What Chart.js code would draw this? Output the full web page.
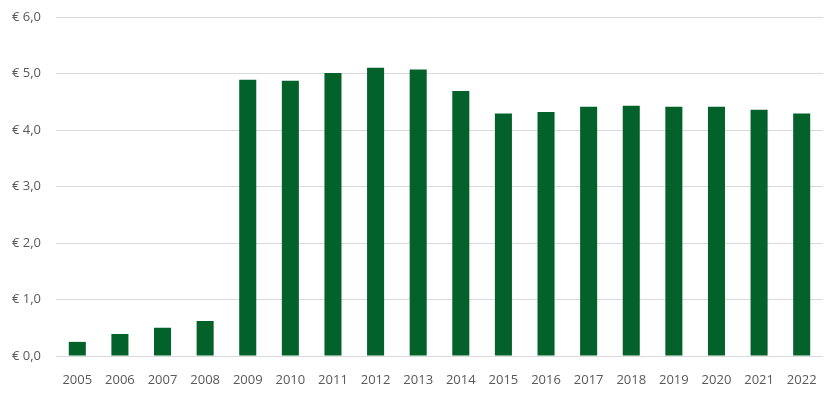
<!DOCTYPE html>
<html>
<head>
<meta charset="utf-8">
<script src="https://cdn.jsdelivr.net/npm/chart.js@4.4.0/dist/chart.umd.min.js"></script>
<style>
    html, body { margin: 0; padding: 0; background: #ffffff; }
    #wrap { width: 838px; height: 395px; position: relative; }
</style>
</head>
<body>
<div id="wrap"><canvas id="priceChart"></canvas></div>
<script>
// Chart data
const years = ['2005', '2006', '2007', '2008', '2009', '2010', '2011', '2012', '2013',
    '2014', '2015', '2016', '2017', '2018', '2019', '2020', '2021', '2022'];
const prices = [0.25, 0.39, 0.50, 0.62, 4.89, 4.87, 5.01, 5.10, 5.07,
    4.69, 4.29, 4.32, 4.41, 4.43, 4.41, 4.41, 4.36, 4.29];
const yTicks = [0, 1, 2, 3, 4, 5, 6];

const barColor = '#03622a';
const gridColor = '#d9d9d9';
const textColor = '#595959';

// Format value as euro label
function formatEuro(value) {
    return '€ ' + value.toFixed(1).replace('.', ',');
}

const ctx = document.getElementById('priceChart').getContext('2d');

new Chart(ctx, {
    type: 'bar',
    data: {
        labels: years,
        datasets: [{
            data: prices,
            backgroundColor: barColor,
            borderWidth: 0,
            barPercentage: 0.4,
            categoryPercentage: 1
        }]
    },
    options: {
        responsive: true,
        maintainAspectRatio: false,
        animation: false,
        layout: {
            padding: { left: 0, right: 15, top: 17, bottom: 0 }
        },
        plugins: {
            legend: { display: false },
            tooltip: { enabled: false }
        },
        scales: {
            x: {
                grid: { display: false },
                border: { display: false },
                ticks: {
                    color: textColor,
                    font: { family: 'Open Sans', size: 13 },
                    padding: 8,
                    maxRotation: 0
                },
                afterFit: function(scale) {
                    scale.height = 39;
                }
            },
            y: {
                min: 0,
                max: 6,
                afterBuildTicks: function(scale) {
                    scale.ticks = yTicks.map(v => ({ value: v }));
                },
                grid: {
                    color: gridColor,
                    lineWidth: 1,
                    drawTicks: false
                },
                border: { display: false },
                ticks: {
                    color: textColor,
                    font: { family: 'Open Sans', size: 13 },
                    padding: 15,
                    callback: function(value) {
                        return formatEuro(value);
                    }
                },
                afterFit: function(scale) {
                    scale.width = 56;
                    scale.paddingTop = 0;
                    scale.paddingBottom = 0;
                }
            }
        }
    }
});
</script>
</body>
</html>
